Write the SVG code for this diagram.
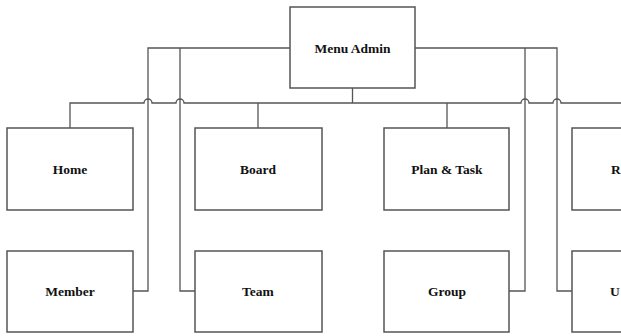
<svg xmlns="http://www.w3.org/2000/svg" width="621" height="336" viewBox="0 0 621 336">
<style>
.box{fill:#fff;stroke:#555;stroke-width:1.5}
.ln{fill:none;stroke:#555;stroke-width:1.3}
.t{font-family:"Liberation Serif","Times New Roman",serif;font-weight:bold;font-size:13.5px;fill:#111;text-anchor:middle}
.e{text-anchor:start}
</style>
<rect width="621" height="336" fill="#fff"/>
<g id="connectors" class="ln">
<path d="M352.5,88 V103"/>
<path d="M70,128 V103 H144 A4,4 0 0 1 152,103 H176 A4,4 0 0 1 184,103 H521 A4,4 0 0 1 529,103 H553 A4,4 0 0 1 561,103 H621"/>
<path d="M258,103 V128"/>
<path d="M447,103 V128"/>
<path d="M290,48 H148 V291 H133"/>
<path d="M180,48 V291 H195"/>
<path d="M415,48 H557 V291 H572"/>
<path d="M525,48 V291 H509"/>
</g>
<g id="menu-admin"><rect class="box" x="290" y="7" width="125" height="81"/><text class="t" x="352.5" y="53">Menu Admin</text></g>
<g id="home"><rect class="box" x="7" y="128" width="126" height="82"/><text class="t" x="70" y="174">Home</text></g>
<g id="board"><rect class="box" x="195" y="128" width="127" height="82"/><text class="t" x="258" y="174">Board</text></g>
<g id="plan-task"><rect class="box" x="384" y="128" width="125" height="82"/><text class="t" x="447" y="174">Plan &amp; Task</text></g>
<g id="r-node"><rect class="box" x="572" y="128" width="60" height="82"/><text class="t e" x="611" y="174">R</text></g>
<g id="member"><rect class="box" x="7" y="251" width="126" height="81"/><text class="t" x="70" y="296">Member</text></g>
<g id="team"><rect class="box" x="195" y="251" width="127" height="81"/><text class="t" x="258" y="296">Team</text></g>
<g id="group"><rect class="box" x="384" y="251" width="125" height="81"/><text class="t" x="447" y="296">Group</text></g>
<g id="u-node"><rect class="box" x="572" y="251" width="60" height="81"/><text class="t e" x="610" y="296">U</text></g>
</svg>
